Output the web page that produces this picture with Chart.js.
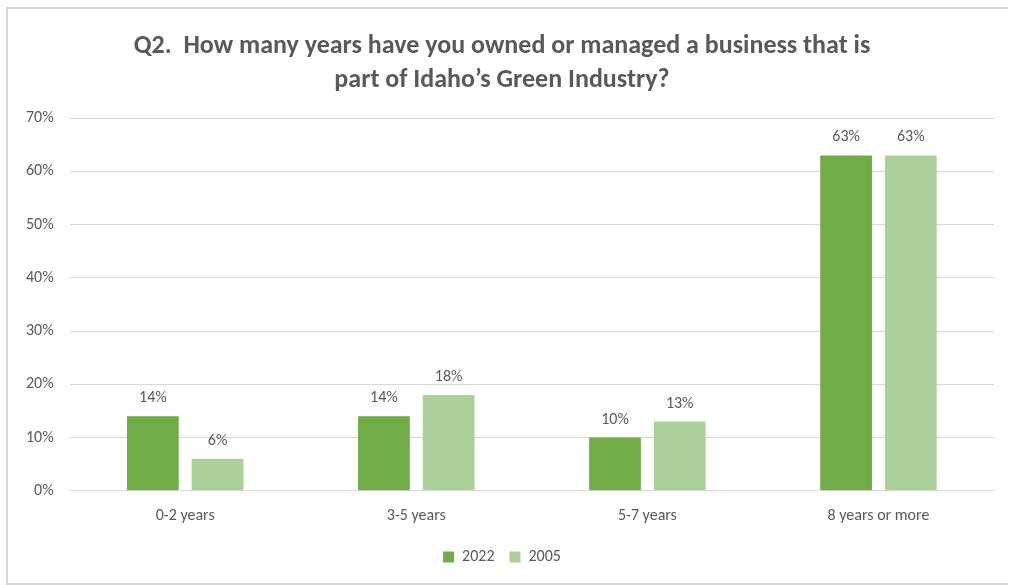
<!DOCTYPE html>
<html>
<head>
<meta charset="utf-8">
<script src="https://cdn.jsdelivr.net/npm/chart.js@4"></script>
<style>
  body { margin: 0; background: #fff; }
  #frame {
    position: absolute; left: 6px; top: 7px;
    width: 1000px; height: 574px;
    border: 2px solid #d9d9d9; border-right: none;
    background: #fff;
  }
  #frame canvas { display: block; }
</style>
</head>
<body>
<div id="frame"><canvas id="myChart" width="1000" height="574"></canvas></div>
<script>
const categories = ['0-2 years', '3-5 years', '5-7 years', '8 years or more'];
const values2022 = [14, 14, 10, 63];
const values2005 = [6, 18, 13, 63];
const yTicks = [0, 10, 20, 30, 40, 50, 60, 70];

const font = "Carlito, Calibri, 'Open Sans', sans-serif";
const textColor = '#595959';

// writes the percentage above each bar
const barLabels = {
  id: 'barLabels',
  afterDatasetsDraw(chart) {
    const c = chart.ctx;
    c.save();
    c.font = '16px ' + font;
    c.fillStyle = textColor;
    c.textAlign = 'center';
    c.textBaseline = 'bottom';
    chart.data.datasets.forEach((ds, i) => {
      chart.getDatasetMeta(i).data.forEach((bar, j) => {
        c.fillText(ds.data[j] + '%', bar.x, bar.y - 10);
      });
    });
    c.restore();
  }
};

const ctx = document.getElementById('myChart');
const chart = new Chart(ctx, {
  type: 'bar',
  data: {
    labels: categories,
    datasets: [{
      label: '2022',
      data: values2022,
      backgroundColor: '#70ad47',
      categoryPercentage: 0.56,
      barPercentage: 0.8
    }, {
      label: '2005',
      data: values2005,
      backgroundColor: '#acd09a',
      categoryPercentage: 0.56,
      barPercentage: 0.8
    }]
  },
  options: {
    responsive: false,
    animation: false,
    layout: { padding: { left: 2, right: 14, top: 0, bottom: 8 } },
    plugins: {
      title: {
        display: true,
        text: ['Q2.  How many years have you owned or managed a business that is', 'part of Idaho\u2019s Green Industry?'],
        color: textColor,
        font: { family: font, size: 26, weight: 'bold', lineHeight: 1.33 },
        padding: { top: 20, bottom: 20 }
      },
      legend: {
        position: 'bottom',
        labels: {
          color: textColor,
          font: { family: font, size: 16 },
          boxWidth: 11, boxHeight: 11,
          padding: 15
        }
      },
      tooltip: { enabled: false }
    },
    scales: {
      x: {
        grid: { display: false },
        border: { display: false },
        ticks: { color: textColor, font: { family: font, size: 16 }, padding: 8 }
      },
      y: {
        min: 0, max: 70,
        afterBuildTicks: axis => { axis.ticks = yTicks.map(v => ({ value: v })); },
        grid: { color: '#d9d9d9', drawTicks: false },
        border: { display: false },
        ticks: { color: textColor, font: { family: font, size: 16 }, padding: 16, callback: v => v + '%' }
      }
    }
  },
  plugins: [barLabels]
});
</script>
</body>
</html>
